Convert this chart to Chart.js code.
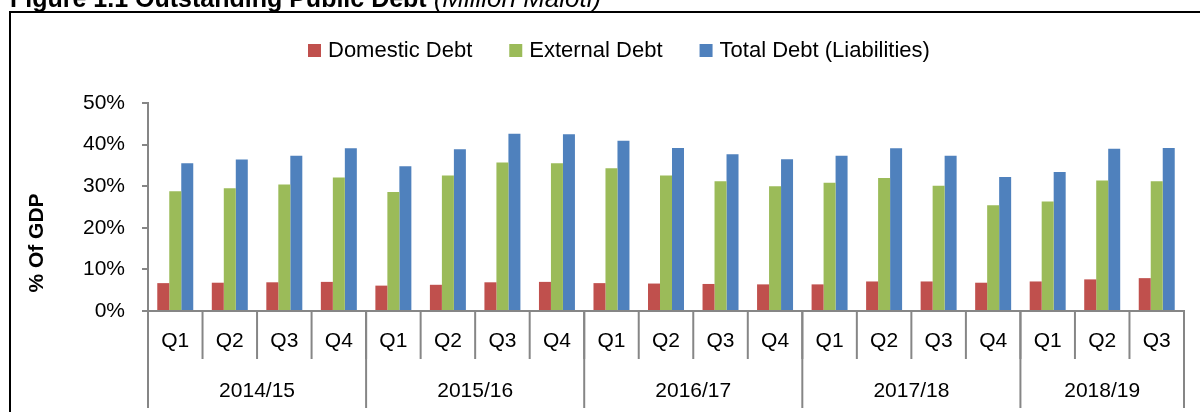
<!DOCTYPE html>
<html>
<head>
<meta charset="utf-8">
<script src="https://cdn.jsdelivr.net/npm/chart.js@4.4.1/dist/chart.umd.min.js"></script>
<style>
  html, body { margin: 0; padding: 0; background: #fff; }
  #wrap { width: 1200px; height: 412px; position: relative; }
</style>
</head>
<body>
<div id="wrap"><canvas id="debt-chart"></canvas></div>
<script>
// values, % of GDP
const quarters = ['Q1', 'Q2', 'Q3', 'Q4', 'Q1', 'Q2', 'Q3', 'Q4', 'Q1', 'Q2', 'Q3', 'Q4',
                  'Q1', 'Q2', 'Q3', 'Q4', 'Q1', 'Q2', 'Q3'];
const fiscalYears = ['2014/15', '2015/16', '2016/17', '2017/18', '2018/19'];
const quartersPerYear = [4, 4, 4, 4, 3];

const domesticDebt = [6.7, 6.8, 6.9, 7.0, 6.1, 6.3, 6.9, 7.0, 6.7, 6.6, 6.5, 6.4,
                      6.4, 7.1, 7.1, 6.8, 7.1, 7.6, 7.9];
const externalDebt = [28.8, 29.5, 30.4, 32.1, 28.6, 32.6, 35.7, 35.5, 34.3, 32.6, 31.2, 30.0,
                      30.8, 32.0, 30.1, 25.4, 26.3, 31.4, 31.2];
const totalDebt = [35.5, 36.4, 37.3, 39.1, 34.8, 38.9, 42.6, 42.5, 40.9, 39.2, 37.7, 36.5,
                   37.3, 39.1, 37.3, 32.2, 33.4, 39.0, 39.2];

const yTicks = [0, 10, 20, 30, 40, 50];

const FONT = "'Liberation Sans', Arial, sans-serif";
const AXIS_GREY = '#868686';

// frame, title, legend, two-level category axis and y title
const decorations = {
  id: 'decorations',
  beforeDraw(chart) {
    const ctx = chart.ctx;
    ctx.save();
    ctx.fillStyle = '#fff';
    ctx.fillRect(0, 0, chart.width, chart.height);

    // heading, clipped at the top of the picture
    ctx.fillStyle = '#000';
    ctx.textBaseline = 'alphabetic';
    ctx.font = `bold 25px ${FONT}`;
    const head = 'Figure 1.1 Outstanding Public Debt ';
    ctx.fillText(head, 10, 7);
    const w = ctx.measureText(head).width;
    ctx.font = `italic 26px ${FONT}`;
    ctx.fillText('(Million Maloti)', 10 + w, 7);

    // outer box (left and top edges only are inside the picture)
    ctx.strokeStyle = '#000';
    ctx.lineWidth = 2;
    ctx.beginPath();
    ctx.moveTo(10, chart.height);
    ctx.lineTo(10, 12);
    ctx.lineTo(chart.width, 12);
    ctx.stroke();
    ctx.restore();
  },
  afterDraw(chart) {
    const ctx = chart.ctx;
    const x = chart.scales.x;
    const area = chart.chartArea;
    const n = quarters.length;

    const edge = i => {
      if (i <= 0) return area.left;
      if (i >= n) return area.right;
      return (x.getPixelForValue(i - 1) + x.getPixelForValue(i)) / 2;
    };

    ctx.save();
    ctx.strokeStyle = AXIS_GREY;
    ctx.lineWidth = 2;

    // quarter separators
    for (let i = 1; i < n; i++) {
      ctx.beginPath();
      ctx.moveTo(edge(i), area.bottom);
      ctx.lineTo(edge(i), area.bottom + 48);
      ctx.stroke();
    }

    // year separators and labels
    ctx.fillStyle = '#000';
    ctx.font = `21px ${FONT}`;
    ctx.textAlign = 'center';
    ctx.textBaseline = 'middle';
    let start = 0;
    for (let k = 0; k <= fiscalYears.length; k++) {
      ctx.beginPath();
      ctx.moveTo(edge(start), area.bottom);
      ctx.lineTo(edge(start), area.bottom + 97);
      ctx.stroke();
      if (k < fiscalYears.length) {
        const end = start + quartersPerYear[k];
        ctx.fillText(fiscalYears[k], (edge(start) + edge(end)) / 2, area.bottom + 80);
        start = end;
      }
    }

    // y axis title
    ctx.save();
    ctx.translate(37, 243);
    ctx.rotate(-Math.PI / 2);
    ctx.font = `bold 21px ${FONT}`;
    ctx.fillText('% Of GDP', 0, 0);
    ctx.restore();

    // legend
    ctx.textAlign = 'left';
    ctx.font = `22px ${FONT}`;
    let lx = 308;
    chart.data.datasets.forEach(ds => {
      ctx.fillStyle = ds.backgroundColor;
      ctx.fillRect(lx, 44, 13, 13);
      ctx.fillStyle = '#000';
      ctx.fillText(ds.label, lx + 20, 51);
      lx += 20 + ctx.measureText(ds.label).width + 37;
    });
    ctx.restore();
  }
};

new Chart(document.getElementById('debt-chart'), {
  type: 'bar',
  data: {
    labels: quarters,
    datasets: [
      { label: 'Domestic Debt', data: domesticDebt, backgroundColor: '#C0504D' },
      { label: 'External Debt', data: externalDebt, backgroundColor: '#9BBB59' },
      { label: 'Total Debt (Liabilities)', data: totalDebt, backgroundColor: '#4F81BD' }
    ]
  },
  options: {
    responsive: true,
    maintainAspectRatio: false,
    animation: false,
    layout: { padding: { top: 103, left: 0, right: 16, bottom: 0 } },
    datasets: {
      bar: { categoryPercentage: 0.66, barPercentage: 1.0, borderWidth: 0 }
    },
    plugins: {
      legend: { display: false },
      tooltip: { enabled: false }
    },
    scales: {
      x: {
        afterFit: s => { s.height = 101; },
        grid: { display: false, drawTicks: false },
        border: { display: true, color: AXIS_GREY, width: 2 },
        ticks: { font: { family: FONT, size: 21 }, color: '#000', padding: 18, maxRotation: 0, autoSkip: false }
      },
      y: {
        min: 0,
        max: 50,
        afterFit: s => { s.width = 148; },
        afterBuildTicks: s => { s.ticks = yTicks.map(v => ({ value: v })); },
        grid: { drawOnChartArea: false, drawTicks: true, tickLength: 6, color: AXIS_GREY, lineWidth: 2 },
        border: { display: true, color: AXIS_GREY, width: 2 },
        ticks: {
          font: { family: FONT, size: 21 },
          color: '#000',
          padding: 17,
          callback: v => v + '%'
        }
      }
    }
  },
  plugins: [decorations]
});
</script>
</body>
</html>
